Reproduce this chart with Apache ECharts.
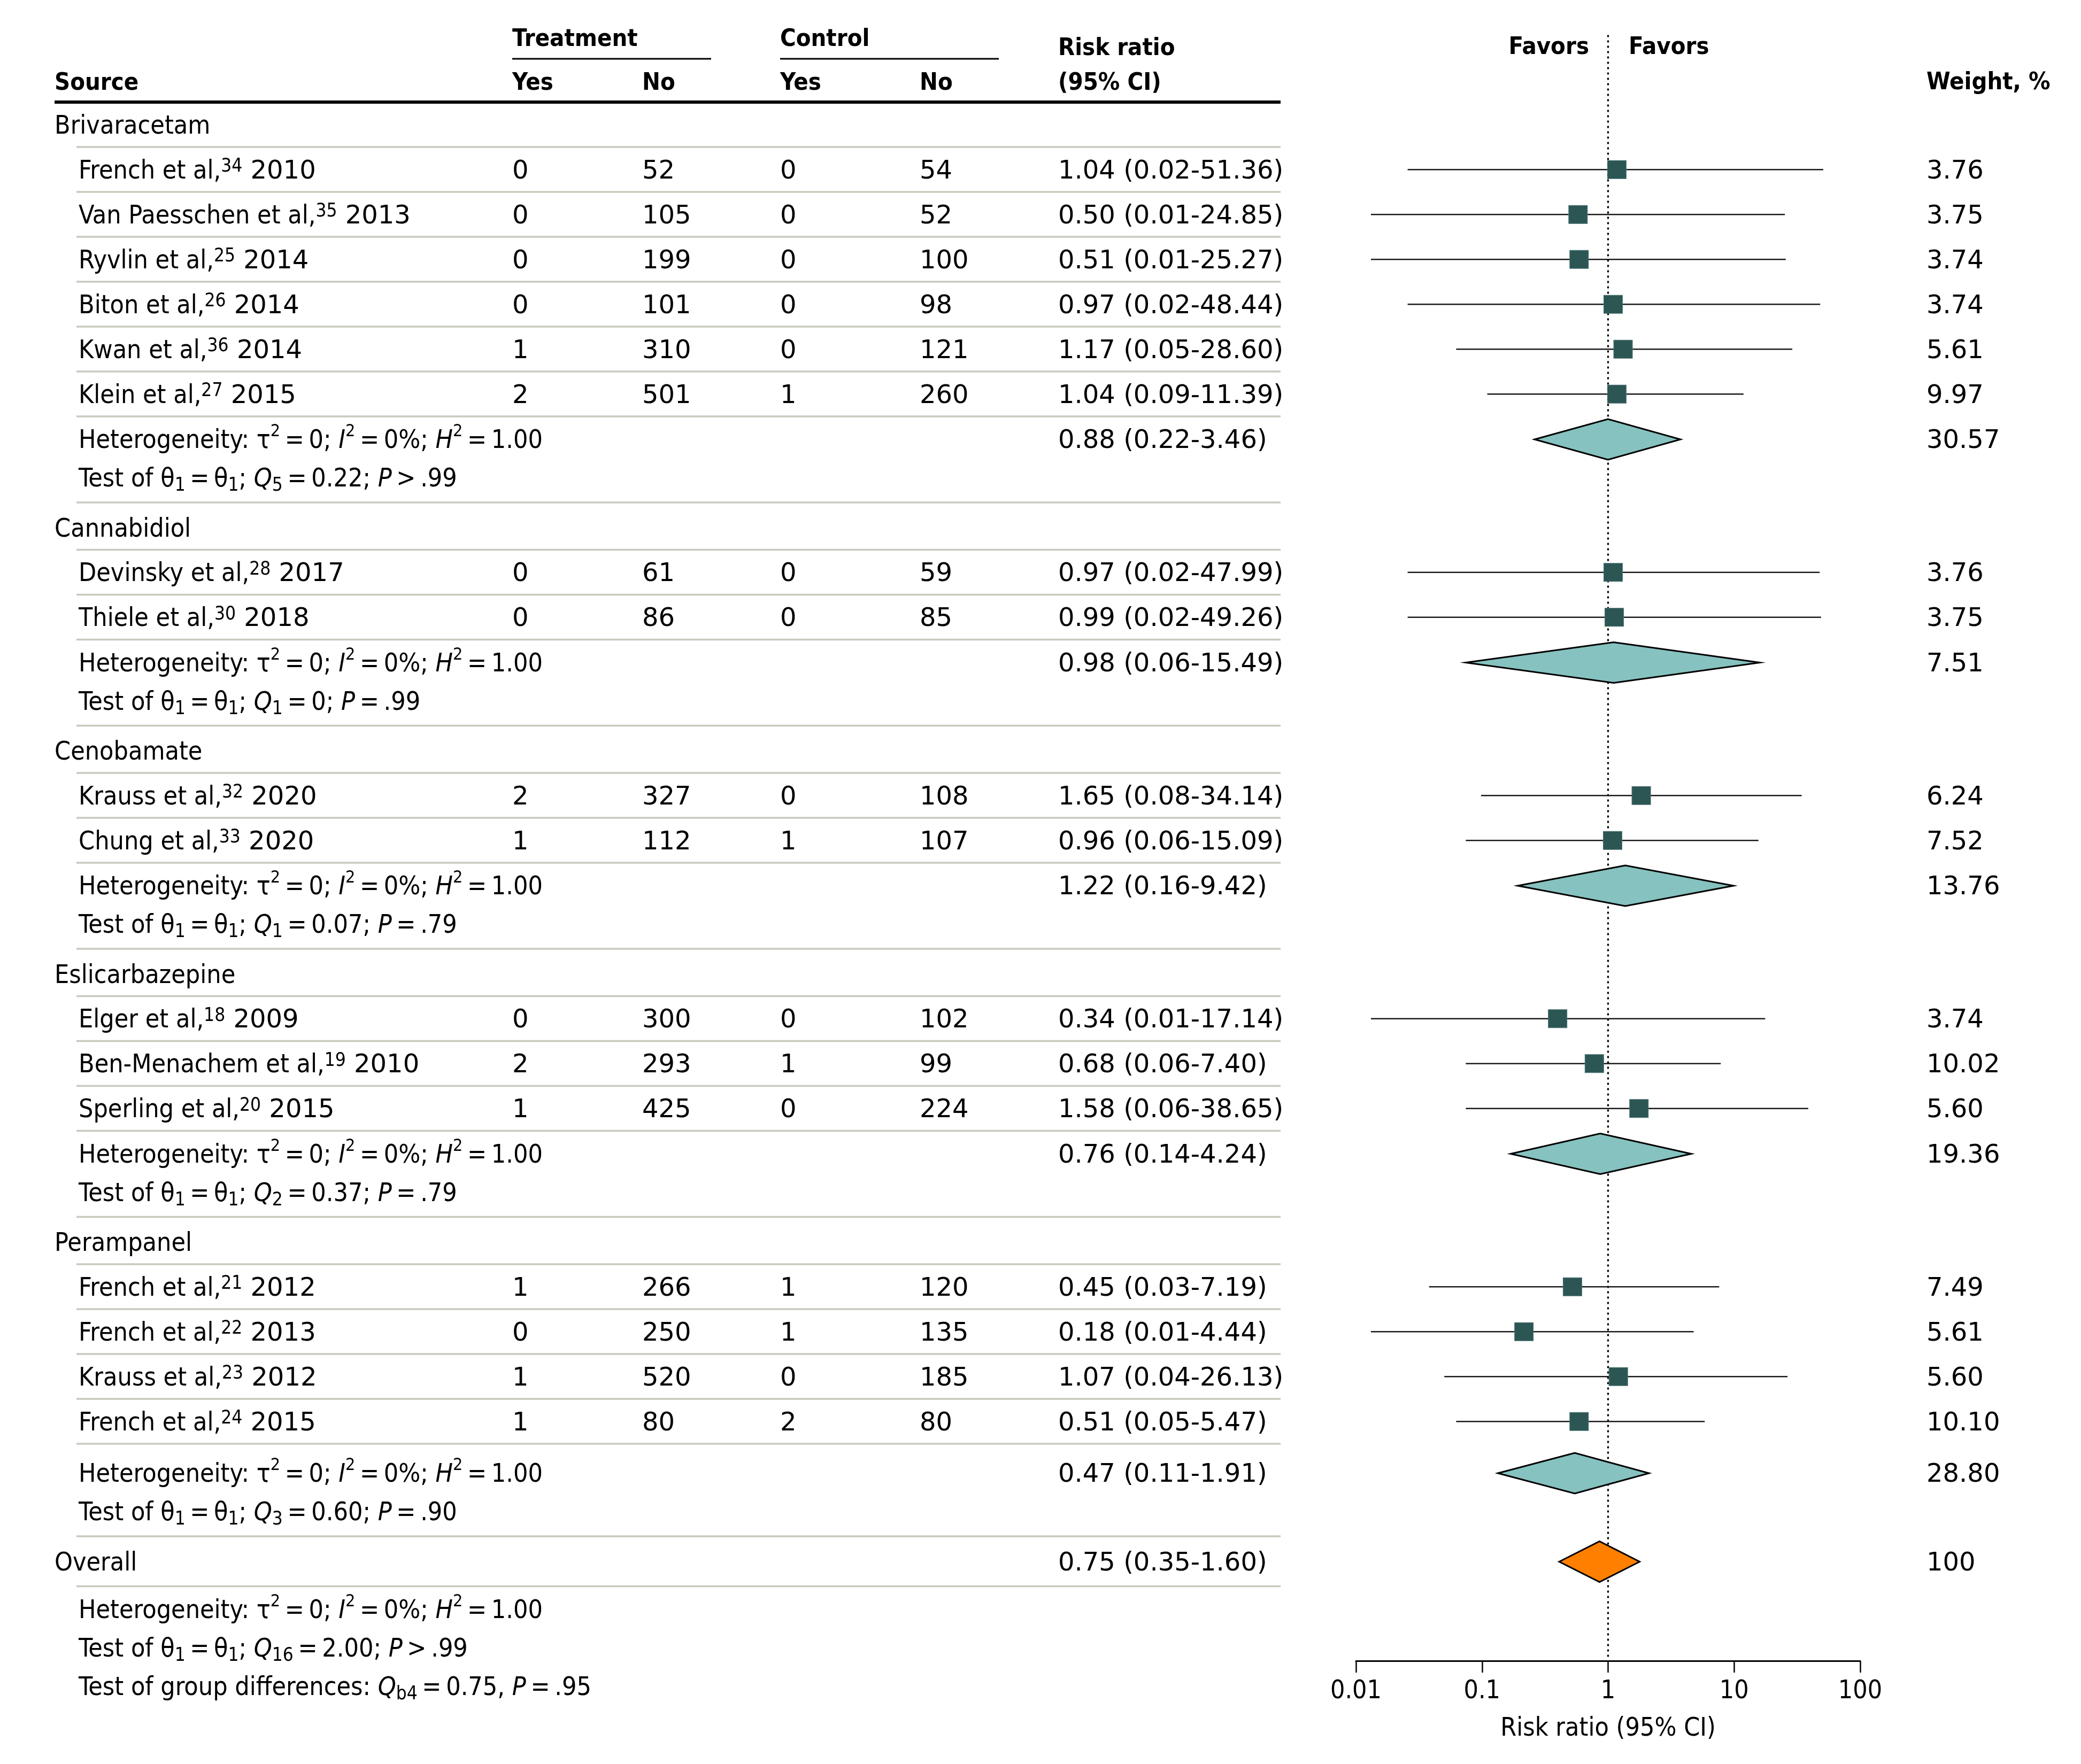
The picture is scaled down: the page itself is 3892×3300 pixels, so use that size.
<!DOCTYPE html>
<html>
<head>
<meta charset="utf-8">
<script src="https://cdn.jsdelivr.net/npm/echarts/dist/echarts.min.js"></script>
<style>
html,body{margin:0;padding:0;background:#fff;}
#chart{width:3892px;height:3300px;}
</style>
</head>
<body>
<div id="chart"></div>
<script>
// ================= DATA =================
const groupNames = ['Brivaracetam', 'Cannabidiol', 'Cenobamate', 'Eslicarbazepine', 'Perampanel'];
const studyGroup = [0, 0, 0, 0, 0, 0, 1, 1, 2, 2, 3, 3, 3, 4, 4, 4, 4];
const studyAuthors = ['French et al,', 'Van Paesschen et al,', 'Ryvlin et al,', 'Biton et al,', 'Kwan et al,', 'Klein et al,',
  'Devinsky et al,', 'Thiele et al,', 'Krauss et al,', 'Chung et al,', 'Elger et al,', 'Ben-Menachem et al,', 'Sperling et al,',
  'French et al,', 'French et al,', 'Krauss et al,', 'French et al,'];
const studyRefs = ['34', '35', '25', '26', '36', '27', '28', '30', '32', '33', '18', '19', '20', '21', '22', '23', '24'];
const studyYears = ['2010', '2013', '2014', '2014', '2014', '2015', '2017', '2018', '2020', '2020', '2009', '2010', '2015', '2012', '2013', '2012', '2015'];
const treatYes = [0, 0, 0, 0, 1, 2, 0, 0, 2, 1, 0, 2, 1, 1, 0, 1, 1];
const treatNo = [52, 105, 199, 101, 310, 501, 61, 86, 327, 112, 300, 293, 425, 266, 250, 520, 80];
const ctrlYes = [0, 0, 0, 0, 0, 1, 0, 0, 0, 1, 0, 1, 0, 1, 1, 0, 2];
const ctrlNo = [54, 52, 100, 98, 121, 260, 59, 85, 108, 107, 102, 99, 224, 120, 135, 185, 80];
const studyRR = [1.04, 0.50, 0.51, 0.97, 1.17, 1.04, 0.97, 0.99, 1.65, 0.96, 0.34, 0.68, 1.58, 0.45, 0.18, 1.07, 0.51];
const studyLo = [0.02, 0.01, 0.01, 0.02, 0.05, 0.09, 0.02, 0.02, 0.08, 0.06, 0.01, 0.06, 0.06, 0.03, 0.01, 0.04, 0.05];
const studyHi = [51.36, 24.85, 25.27, 48.44, 28.60, 11.39, 47.99, 49.26, 34.14, 15.09, 17.14, 7.40, 38.65, 7.19, 4.44, 26.13, 5.47];
const studyWeight = [3.76, 3.75, 3.74, 3.74, 5.61, 9.97, 3.76, 3.75, 6.24, 7.52, 3.74, 10.02, 5.60, 7.49, 5.61, 5.60, 10.10];

const groupRR = [0.88, 0.98, 1.22, 0.76, 0.47];
const groupLo = [0.22, 0.06, 0.16, 0.14, 0.11];
const groupHi = [3.46, 15.49, 9.42, 4.24, 1.91];
const groupWeight = [30.57, 7.51, 13.76, 19.36, 28.80];
const groupQdf = ['5', '1', '1', '2', '3'];
const groupQ = ['0.22', '0', '0.07', '0.37', '0.60'];
const groupPop = ['>', '=', '=', '=', '='];
const groupP = ['.99', '.99', '.79', '.79', '.90'];

const overallRR = [0.75];
const overallLo = [0.35];
const overallHi = [1.60];
const overallWeight = [100];
const overallQdf = '16', overallQ = '2.00', overallPop = '>', overallP = '.99';
const groupDiffQdf = 'b4', groupDiffQ = '0.75', groupDiffP = '.95';
const hetTau2 = '0', hetI2 = '0%', hetH2 = '1.00';
const nullRR = [1];

const axisTicks = [0.01, 0.1, 1, 10, 100];
const axisTickLabels = ['0.01', '0.1', '1', '10', '100'];

// ================= STYLE / LAYOUT =================
const FONT = '"DejaVu Sans Condensed", "DejaVu Sans", sans-serif';
const FONT_NUM = '"DejaVu Sans", sans-serif';
const FS = 48;
const FS_BOLD = 45;
const LH = 56;
const TEXT_DY = 4;
const SQUARE_COLOR = '#2b5654';
const DIAMOND_FILLS = ['#86c2c0', '#ff8000'];
const DIAMOND_HALF = 38;
const SEP_COLOR = '#c6cbbd';
const TS = '\u2009'; // thin space around operators

const COL = { source: 102, study: 147, tYes: 958, tNo: 1201, cYes: 1459, cNo: 1720, rr: 1979, weight: 3603, tableRight: 2395 };
// axis grid (drawn axis) and the marks grid (reference plots its marks on a slightly narrower span)
const GRID = { left: 2536, width: 943, top: 67, axisY: 3107 };
const MARK_GRID = { left: 2564, width: 912 };
const L = { ruleY: 191, firstHeader: 43, headerToSep: 41, sepToStudy: 42.3, studyToSep: 41.7,
  sepToHet: 43, lastGroupExtra: 12, hetToTest: 72, testToSep: 46, sepToHeader: 47.5, overallToSep: 46 };

// compute row positions (value space of the hidden y axis)
let cy = L.ruleY;
const groupHeaderY = [], studyY = [], sepY = [], hetY = [], testY = [];
let si = 0;
groupNames.forEach((g, gi) => {
  cy += gi === 0 ? L.firstHeader : L.sepToHeader;
  groupHeaderY.push(cy);
  cy += L.headerToSep; sepY.push(cy);
  while (si < studyGroup.length && studyGroup[si] === gi) {
    cy += L.sepToStudy; studyY.push(cy);
    cy += L.studyToSep; sepY.push(cy);
    si++;
  }
  cy += L.sepToHet + (gi === groupNames.length - 1 ? L.lastGroupExtra : 0); hetY.push(cy);
  cy += L.hetToTest; testY.push(cy);
  cy += L.testToSep; sepY.push(cy);
});
cy += L.sepToHeader; const overallY = cy;
cy += L.overallToSep; sepY.push(cy);
cy += L.sepToHet; const overallHetY = cy;
cy += L.hetToTest; const overallTestY = cy;
cy += L.hetToTest; const groupDiffY = cy;

const fmt2 = v => v.toFixed(2);
const rrText = (r, lo, hi) => `${fmt2(r)} (${fmt2(lo)}-${fmt2(hi)})`;
const wText = w => (w === 100 ? '100' : fmt2(w));

// ================= CHART =================
const chart = echarts.init(document.getElementById('chart'), null, { renderer: 'canvas' });

const ciData = studyRR.map((r, i) => [studyLo[i], studyHi[i], studyY[i]]);
const squareData = studyRR.map((r, i) => [r, studyY[i]]);
const diamondData = groupRR.map((r, i) => [groupLo[i], r, groupHi[i], hetY[i], 0])
  .concat([[overallLo[0], overallRR[0], overallHi[0], overallY, 1]]);

const tickFormatter = v => {
  const i = axisTicks.findIndex(t => Math.abs(Math.log10(t) - Math.log10(v)) < 1e-6);
  return i >= 0 ? axisTickLabels[i] : '';
};

chart.setOption({
  animation: false,
  backgroundColor: '#ffffff',
  grid: [
    { left: GRID.left, width: GRID.width, top: GRID.top, height: GRID.axisY - GRID.top, containLabel: false, outerBoundsMode: 'none' },
    { left: MARK_GRID.left, width: MARK_GRID.width, top: GRID.top, height: GRID.axisY - GRID.top, containLabel: false, outerBoundsMode: 'none' }
  ],
  xAxis: [
    {
      gridIndex: 0, type: 'log', logBase: 10, min: axisTicks[0], max: axisTicks[axisTicks.length - 1],
      position: 'bottom',
      axisLine: { show: true, onZero: false, lineStyle: { color: '#000', width: 3 } },
      axisTick: { show: true, inside: false, length: 22, lineStyle: { color: '#000', width: 2.5 } },
      splitLine: { show: false },
      minorTick: { show: false },
      axisLabel: { show: true, margin: 34, color: '#000', fontSize: FS, fontFamily: FONT, formatter: tickFormatter },
      name: 'Risk ratio (95% CI)', nameLocation: 'middle', nameGap: 104,
      nameTextStyle: { color: '#000', fontSize: FS, fontFamily: FONT }
    },
    {
      gridIndex: 1, type: 'log', logBase: 10, min: axisTicks[0], max: axisTicks[axisTicks.length - 1], show: false
    }
  ],
  yAxis: [
    { gridIndex: 0, type: 'value', min: GRID.top, max: GRID.axisY, inverse: true, show: false },
    { gridIndex: 1, type: 'value', min: GRID.top, max: GRID.axisY, inverse: true, show: false }
  ],
  series: [
    {
      // dotted line of no effect (RR = 1) on the drawn axis
      type: 'custom', name: 'null', coordinateSystem: 'cartesian2d', xAxisIndex: 0, yAxisIndex: 0, silent: true, z: 1,
      data: nullRR.map(v => [v]), encode: { x: 0 },
      renderItem: (params, api) => {
        const cs = params.coordSys;
        const x = api.coord([api.value(0), GRID.top])[0];
        return { type: 'line', shape: { x1: x, y1: cs.y, x2: x, y2: cs.y + cs.height },
          style: { stroke: '#000', lineWidth: 3.5, lineDash: [1, 9], lineCap: 'round' } };
      }
    },
    {
      type: 'custom', name: 'ci', coordinateSystem: 'cartesian2d', xAxisIndex: 1, yAxisIndex: 1, silent: true, z: 2,
      data: ciData, encode: { x: [0, 1], y: 2 },
      renderItem: (params, api) => {
        const yv = api.value(2);
        const a = api.coord([api.value(0), yv]);
        const b = api.coord([api.value(1), yv]);
        return { type: 'line', shape: { x1: a[0], y1: a[1], x2: b[0], y2: b[1] }, style: { stroke: '#1a1a1a', lineWidth: 2.5 } };
      }
    },
    {
      type: 'scatter', name: 'est', xAxisIndex: 1, yAxisIndex: 1, silent: true, z: 4,
      symbol: 'rect', symbolSize: [35, 34],
      itemStyle: { color: SQUARE_COLOR, borderColor: '#4f7674', borderWidth: 1, opacity: 1 },
      data: squareData
    },
    {
      type: 'custom', name: 'pooled', coordinateSystem: 'cartesian2d', xAxisIndex: 1, yAxisIndex: 1, silent: true, z: 4,
      data: diamondData, encode: { x: [0, 1, 2], y: 3 },
      renderItem: (params, api) => {
        const yv = api.value(3);
        const l = api.coord([api.value(0), yv]);
        const m = api.coord([api.value(1), yv]);
        const r = api.coord([api.value(2), yv]);
        return {
          type: 'polygon',
          shape: { points: [[l[0], m[1]], [m[0], m[1] - DIAMOND_HALF], [r[0], m[1]], [m[0], m[1] + DIAMOND_HALF]] },
          style: { fill: DIAMOND_FILLS[api.value(4)], stroke: '#000', lineWidth: 3, lineJoin: 'miter' }
        };
      }
    }
  ]
});

// ================= TABLE (graphic text) =================
const py = v => chart.convertToPixel({ yAxisIndex: 0 }, v);
const baseRich = {
  n: { fontSize: FS, fontFamily: FONT, fill: '#000', lineHeight: LH },
  d: { fontSize: FS, fontFamily: FONT_NUM, fill: '#000', lineHeight: LH },
  b: { fontSize: FS_BOLD, fontFamily: FONT, fontWeight: 'bold', fill: '#000', lineHeight: LH },
  i: { fontSize: FS, fontFamily: FONT, fontStyle: 'italic', fill: '#000', lineHeight: LH },
  ref: { fontSize: 35, fontFamily: FONT, fill: '#000', lineHeight: LH, height: 38, verticalAlign: 'top' },
  sup: { fontSize: 32, fontFamily: FONT, fill: '#000', lineHeight: LH, height: 20, verticalAlign: 'top' },
  sub: { fontSize: 35, fontFamily: FONT, fill: '#000', lineHeight: LH, height: 34, verticalAlign: 'bottom' }
};
const elements = [];
function txt(x, yPix, rich, align) {
  elements.push({
    type: 'text', x: x, y: yPix + TEXT_DY, silent: true, z: 10,
    style: { text: rich, rich: baseRich, fontSize: FS, fontFamily: FONT, fill: '#000', lineHeight: LH,
      align: align || 'left', verticalAlign: 'middle' }
  });
}
function hline(x1, x2, yPix, color, w) {
  elements.push({ type: 'line', silent: true, z: 5, shape: { x1: x1, y1: yPix, x2: x2, y2: yPix },
    style: { stroke: color, lineWidth: w } });
}
const n = s => `{n|${s}}`;
const d = s => `{d|${s}}`;
const eq = `${TS}=${TS}`;
const hetRich = `{n|Heterogeneity: τ}{sup|2}{n|${eq}${hetTau2}; }{i|I}{sup|2}{n|${eq}${hetI2}; }{i|H}{sup|2}{n|${eq}${hetH2}}`;
const testRich = (df, q, op, p) => `{n|Test of θ}{sub|1}{n|${eq}θ}{sub|1}{n|; }{i|Q}{sub|${df}}{n|${eq}${q}; }{i|P}{n|${TS}${op}${TS}${p}}`;

// header
txt(COL.tYes, 70, '{b|Treatment}');
txt(COL.cYes, 70, '{b|Control}');
hline(COL.tYes, 1330, 110, '#000', 3);
hline(COL.cYes, 1868, 110, '#000', 3);
txt(COL.source, 152, '{b|Source}');
txt(COL.tYes, 152, '{b|Yes}');
txt(COL.tNo, 152, '{b|No}');
txt(COL.cYes, 152, '{b|Yes}');
txt(COL.cNo, 152, '{b|No}');
txt(COL.rr, 87, '{b|Risk ratio}');
txt(COL.rr, 152, '{b|(95% CI)}');
txt(2972, 85, '{b|Favors}', 'right');
txt(3046, 85, '{b|Favors}');
txt(COL.weight, 151, '{b|Weight, %}');
hline(COL.source, COL.tableRight, L.ruleY, '#000', 6);

sepY.forEach(v => hline(143, COL.tableRight, py(v), SEP_COLOR, 3.5));

groupNames.forEach((g, gi) => {
  txt(COL.source, py(groupHeaderY[gi]), n(g));
  txt(COL.study, py(hetY[gi]), hetRich);
  txt(COL.rr, py(hetY[gi]), d(rrText(groupRR[gi], groupLo[gi], groupHi[gi])));
  txt(COL.weight, py(hetY[gi]), d(wText(groupWeight[gi])));
  txt(COL.study, py(testY[gi]), testRich(groupQdf[gi], groupQ[gi], groupPop[gi], groupP[gi]));
});
studyAuthors.forEach((a, i) => {
  const yy = py(studyY[i]);
  txt(COL.study, yy, `{n|${a}}{ref|${studyRefs[i]}}{d| ${studyYears[i]}}`);
  txt(COL.tYes, yy, d(treatYes[i]));
  txt(COL.tNo, yy, d(treatNo[i]));
  txt(COL.cYes, yy, d(ctrlYes[i]));
  txt(COL.cNo, yy, d(ctrlNo[i]));
  txt(COL.rr, yy, d(rrText(studyRR[i], studyLo[i], studyHi[i])));
  txt(COL.weight, yy, d(wText(studyWeight[i])));
});
txt(COL.source, py(overallY), n('Overall'));
txt(COL.rr, py(overallY), d(rrText(overallRR[0], overallLo[0], overallHi[0])));
txt(COL.weight, py(overallY), d(wText(overallWeight[0])));
txt(COL.study, py(overallHetY), hetRich);
txt(COL.study, py(overallTestY), testRich(overallQdf, overallQ, overallPop, overallP));
txt(COL.study, py(groupDiffY), `{n|Test of group differences: }{i|Q}{sub|${groupDiffQdf}}{n|${eq}${groupDiffQ}, }{i|P}{n|${eq}${groupDiffP}}`);

chart.setOption({ graphic: { elements: elements } });
</script>
</body>
</html>
